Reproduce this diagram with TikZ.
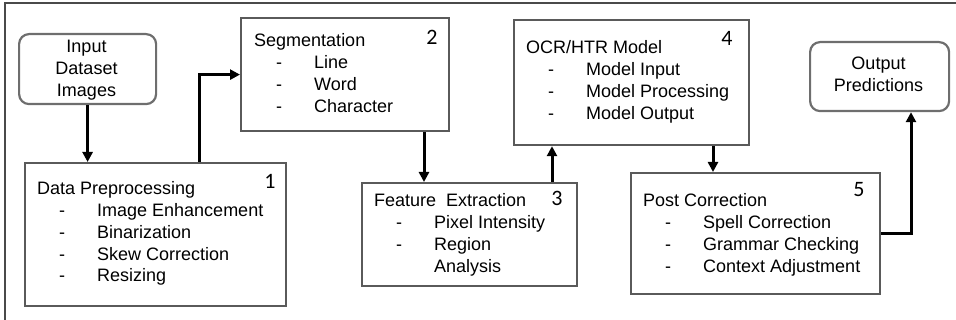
\documentclass[tikz,border=0pt]{standalone}
\usepackage{fontspec}
\setmainfont{Liberation Sans}
\newfontfamily\digitfont{Carlito}
\usetikzlibrary{arrows.meta}
\definecolor{boxgray}{HTML}{5A5A5A}
\definecolor{roundgray}{HTML}{6E6E6E}
\definecolor{framegray}{HTML}{4A4A4A}
\newcommand{\itm}[1]{\makebox[22pt][l]{}\makebox[38pt][l]{-}#1}
\newcommand{\cont}[1]{\makebox[60pt][l]{}#1}
\newcommand{\lines}[1]{\begin{tabular}[t]{@{}l@{}}#1\end{tabular}}
\newcommand{\clines}[1]{\begin{tabular}[t]{@{}c@{}}#1\end{tabular}}

\begin{document}
\begin{tikzpicture}[x=1pt, y=-1pt,
    stepbox/.style={draw=boxgray, line width=2.2pt, anchor=north west, inner sep=0pt},
    endbox/.style={draw=roundgray, line width=2.2pt, rounded corners=10pt, anchor=north west, inner sep=0pt},
    steptext/.style={anchor=base west, inner sep=0pt, font=\fontsize{18}{21.7}\selectfont},
    endtext/.style={anchor=base, inner sep=0pt, font=\fontsize{18}{21.7}\selectfont},
    stepnum/.style={anchor=base, inner sep=0pt, font=\digitfont\fontsize{22}{26}\selectfont},
    flow/.style={line width=3pt, -{Triangle[length=10pt, width=10pt]}}]
      \useasboundingbox (0,0) rectangle (956,320);
      \draw[framegray, line width=1.5pt] (5,330) -- (5,3) -- (965,3);

      \node (in) [endbox, minimum width=137pt, minimum height=70pt] at (18,33) {};
      \node (b1) [stepbox, minimum width=261pt, minimum height=143pt] at (24,162) {};
      \node (b2) [stepbox, minimum width=208pt, minimum height=113pt] at (240,17) {};
      \node (b3) [stepbox, minimum width=215pt, minimum height=103pt] at (361,182) {};
      \node (b4) [stepbox, minimum width=235pt, minimum height=125pt] at (513,19) {};
      \node (b5) [stepbox, minimum width=249pt, minimum height=121pt] at (630,172) {};
      \node (out) [endbox, minimum width=139pt, minimum height=69pt] at (809,41) {};

      \node (inT) [endtext] at (86.5,53) {\clines{Input\\Dataset\\Images}};
      \node (outT) [endtext] at (878.5,70) {\clines{Output\\Predictions}};
      \node (b1T) [steptext] at (37,195) {\lines{Data Preprocessing\\\itm{Image Enhancement}\\\itm{Binarization}\\\itm{Skew Correction}\\\itm{Resizing}}};
      \node (b2T) [steptext] at (254,47) {\lines{Segmentation\\\itm{Line}\\\itm{Word}\\\itm{Character}}};
      \node (b3T) [steptext] at (374,207) {\lines{Feature\ \ Extraction\\\itm{Pixel Intensity}\\\itm{Region}\\\cont{Analysis}}};
      \node (b4T) [steptext] at (526,54) {\lines{OCR/HTR Model\\\itm{Model Input}\\\itm{Model Processing}\\\itm{Model Output}}};
      \node (b5T) [steptext] at (643,207) {\lines{Post Correction\\\itm{Spell Correction}\\\itm{Grammar Checking}\\\itm{Context Adjustment}}};

      \node (n1) [stepnum] at (270,189) {1};
      \node (n2) [stepnum] at (432,45) {2};
      \node (n3) [stepnum] at (557,206) {3};
      \node (n4) [stepnum] at (727,46) {4};
      \node (n5) [stepnum] at (859,197) {5};

      \coordinate (j1) at (199,0);
      \coordinate (j2) at (424,0);
      \coordinate (j3) at (552,0);
      \coordinate (j4) at (713,0);
      \coordinate (j5) at (911,0);

      \draw[flow] (in.south) -- (in |- b1.north);
      \draw[flow] (j1 |- b1.north) |- (b2.west);
      \draw[flow] (j2 |- b2.south) -- (j2 |- b3.north);
      \draw[flow] (j3 |- b3.north) -- (j3 |- b4.south);
      \draw[flow] (j4 |- b4.south) -- (j4 |- b5.north);
      \draw[flow] (b5.east) -| (j5 |- out.south);
\end{tikzpicture}
\end{document}
